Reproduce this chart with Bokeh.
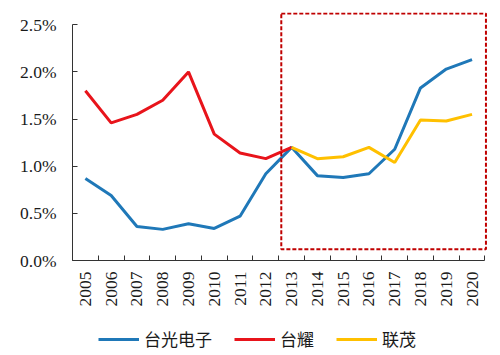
import math
from bokeh.plotting import figure
from bokeh.layouts import column
from bokeh.models import (FixedTicker, Range1d, Legend, LegendItem, BoxAnnotation,
                          ColumnDataSource)
from bokeh.embed import file_html
from bokeh.resources import INLINE

years = ["2005", "2006", "2007", "2008", "2009", "2010", "2011", "2012",
         "2013", "2014", "2015", "2016", "2017", "2018", "2019", "2020"]
nan = float("nan")
taiguang = [0.87, 0.69, 0.36, 0.33, 0.39, 0.34, 0.47, 0.92,
            1.20, 0.90, 0.88, 0.92, 1.18, 1.83, 2.03, 2.13]
taiyao = [1.80, 1.46, 1.55, 1.70, 2.00, 1.34, 1.14, 1.08,
          1.20, nan, nan, nan, nan, nan, nan, nan]
lianmao = [nan, nan, nan, nan, nan, nan, nan, nan,
           1.20, 1.08, 1.10, 1.20, 1.04, 1.49, 1.48, 1.55]
series_names = ["台光电子", "台耀", "联茂"]
y_ticks = [0.0, 0.5, 1.0, 1.5, 2.0, 2.5]

xs = [i + 0.5 for i in range(len(years))]

p = figure(frame_width=415, frame_height=248, output_backend="svg", toolbar_location=None,
           x_range=Range1d(0, 16.1), y_range=Range1d(0, 2.63),
           min_border_left=72, min_border_right=13, min_border_top=12,
           min_border_bottom=60)
p.outline_line_color = None
p.grid.grid_line_color = None

font = "Liberation Serif"
p.xaxis.bounds = (0, len(years))
p.yaxis.bounds = (0, 2.5)
# x axis: labels at category centers, ticks at boundaries (minor)
p.xaxis.ticker = FixedTicker(ticks=xs, minor_ticks=list(range(len(years) + 1)))
p.xaxis.major_label_overrides = {x: y for x, y in zip(xs, years)}
p.xaxis.major_label_orientation = math.pi / 2
p.xaxis.major_tick_in = 0
p.xaxis.major_tick_out = 0
p.xaxis.minor_tick_in = 5
p.xaxis.minor_tick_out = 0
p.xaxis.major_label_standoff = 11
p.yaxis.ticker = FixedTicker(ticks=y_ticks)
p.yaxis.major_label_overrides = {v: f"{v:.1f}%" for v in y_ticks}
p.yaxis.major_tick_in = 5
p.yaxis.major_tick_out = 0
p.yaxis.minor_tick_line_color = None
p.yaxis.major_label_standoff = 16
for ax in (p.xaxis, p.yaxis):
    ax.major_label_text_font = font
    ax.major_label_text_font_size = "17.5px"
    ax.major_label_text_color = "#1a1a1a"
    ax.axis_line_color = "#333333"
    ax.major_tick_line_color = "#333333"
p.xaxis.minor_tick_line_color = "#333333"

colors = ["#1F78B8", "#E8141B", "#FFC000"]
series = [taiguang, taiyao, lianmao]
for vals, c in zip(series, colors):
    src = ColumnDataSource(dict(x=xs, y=vals))
    p.line("x", "y", source=src, line_color=c, line_width=3)

box = BoxAnnotation(left=8.1, right=16.04, bottom=0.12, top=2.62,
                    fill_alpha=0, line_color="#C00000", line_alpha=1.0,
                    line_width=2, line_dash="4 2")
p.add_layout(box)

# legend strip below the chart (its lines lie outside its visible range)
lg = figure(frame_width=500, frame_height=35, output_backend="svg", toolbar_location=None,
            x_range=Range1d(0, 16), y_range=Range1d(10, 11), min_border=0,
            x_axis_location=None, y_axis_location=None)
lg.outline_line_color = None
lg.grid.grid_line_color = None
items = []
for name, vals, c in zip(series_names, series, colors):
    src = ColumnDataSource(dict(x=xs, y=vals))
    r = lg.line("x", "y", source=src, line_color=c, line_width=3)
    items.append(LegendItem(label=name, renderers=[r]))
legend = Legend(items=items, orientation="horizontal", location=(98, 4),
                label_text_font="Noto Sans CJK SC", label_text_font_size="17px",
                label_text_color="#1a1a1a",
                glyph_width=41, glyph_height=12, spacing=22, label_standoff=5,
                background_fill_alpha=0, border_line_color=None, padding=0, margin=0)
lg.add_layout(legend, "center")

layout = column(p, lg, spacing=0)
open("out.html", "w").write(file_html(layout, INLINE))
